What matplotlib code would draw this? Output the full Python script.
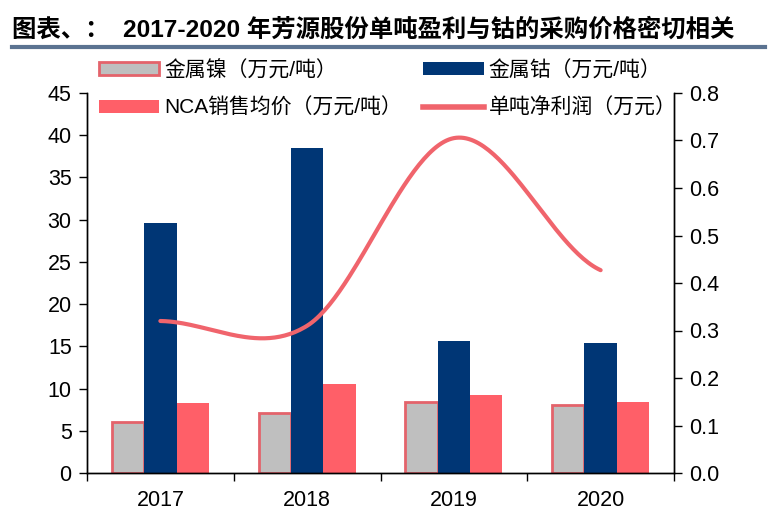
import numpy as np
import matplotlib
matplotlib.use("Agg")
import matplotlib.pyplot as plt
from matplotlib.patches import Patch
from matplotlib.lines import Line2D

plt.rcParams['font.family'] = ['Liberation Sans', 'Noto Sans CJK SC', 'DejaVu Sans']

years = ['2017', '2018', '2019', '2020']
nickel = [6.0, 7.1, 8.4, 8.05]       # 金属镍（万元/吨）
cobalt = [29.6, 38.5, 15.6, 15.4]    # 金属钴（万元/吨）
nca = [8.3, 10.5, 9.2, 8.4]          # NCA销售均价（万元/吨）
profit = [0.32, 0.31, 0.705, 0.427]  # 单吨净利润（万元）

c_nickel = '#BFBFBF'
c_nickel_edge = '#E4636B'
c_cobalt = '#003675'
c_nca = '#FF5F68'
c_line = '#F0646C'


def smooth(y, n=60):
    # catmull-rom, like the smoothed line in excel
    y = np.asarray(y, dtype=float)
    xs, ys = [], []
    for i in range(len(y) - 1):
        p0 = y[i - 1] if i > 0 else y[i]
        p3 = y[i + 2] if i + 2 < len(y) else y[i + 1]
        m1 = (y[i + 1] - p0) / 2
        m2 = (p3 - y[i]) / 2
        t = np.linspace(0, 1, n)
        h00 = 2 * t**3 - 3 * t**2 + 1
        h10 = t**3 - 2 * t**2 + t
        h01 = -2 * t**3 + 3 * t**2
        h11 = t**3 - t**2
        xs.append(i + t)
        ys.append(h00 * y[i] + h10 * m1 + h01 * y[i + 1] + h11 * m2)
    return np.concatenate(xs), np.concatenate(ys)


W, H = 771, 515
fig = plt.figure(figsize=(W / 100, H / 100), dpi=100)
ax = fig.add_axes([87 / W, 1 - 473 / H, (674 - 87) / W, (473 - 93) / H])
ax2 = ax.twinx()

x = np.arange(len(years))
w = 0.22
ax.bar(x - w, nickel, w, color=c_nickel, edgecolor=c_nickel_edge, linewidth=2)
ax.bar(x, cobalt, w, color=c_cobalt)
ax.bar(x + w, nca, w, color=c_nca)

sx, sy = smooth(profit)
ax2.plot(sx, sy, color=c_line, lw=3, solid_capstyle='round')

ax.set_xlim(-0.5, len(years) - 0.5)
ax.set_ylim(0, 45)
ax.set_yticks(np.arange(0, 46, 5))
ax2.set_ylim(0, 0.8)
ax2.set_yticks(np.arange(0, 0.81, 0.1))
ax2.set_yticklabels(['%.1f' % v for v in np.arange(0, 0.81, 0.1)])

ax.set_xticks(np.arange(-0.5, len(years), 1.0))
ax.set_xticklabels([])
ax.set_xticks(x, minor=True)
ax.set_xticklabels(years, minor=True)
ax.tick_params(axis='x', which='major', length=6, direction='out', width=1)
ax.tick_params(axis='x', which='minor', length=0, pad=12, labelsize=15.5)
ax.tick_params(axis='y', length=6, width=1, labelsize=15.5, pad=5)
ax2.tick_params(axis='y', length=6, width=1, labelsize=15.5, pad=5)

for a in (ax, ax2):
    a.spines['top'].set_visible(False)
    for s in ('left', 'right', 'bottom'):
        a.spines[s].set_linewidth(1)

handles = [
    Patch(facecolor=c_nickel, edgecolor=c_nickel_edge, linewidth=2),
    Patch(facecolor=c_nca),
    Patch(facecolor=c_cobalt),
    Line2D([0], [0], color=c_line, lw=4),
]
labels = ['金属镍（万元/吨）', 'NCA销售均价（万元/吨）',
          '金属钴（万元/吨）', '单吨净利润（万元）']
fig.legend(handles, labels, ncol=2, loc='upper left',
           bbox_to_anchor=(99 / W, 1 - 60 / H), frameon=False,
           fontsize=15, handlelength=2.9, handleheight=0.58,
           handletextpad=0.25, columnspacing=1.0, labelspacing=0.85,
           borderpad=0, borderaxespad=0)

fig.text(12 / W, 1 - 30 / H, '图表、：  2017-2020 年芳源股份单吨盈利与钴的采购价格密切相关',
         fontsize=17.6, fontweight='bold', va='center', ha='left')
fig.add_artist(Line2D([12 / W, 765 / W], [1 - 47 / H, 1 - 47 / H],
                      color='#5B7391', lw=3))

fig.savefig('out.png', dpi=100)
